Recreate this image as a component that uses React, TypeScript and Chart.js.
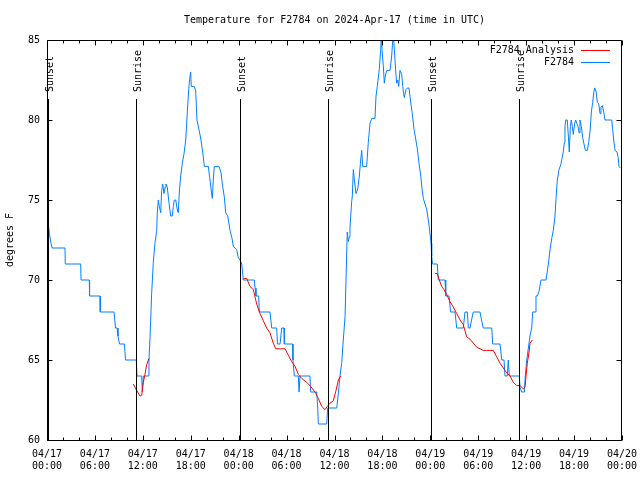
import React, { useEffect, useRef } from "react";
import { Chart, registerables } from "chart.js";

Chart.register(...registerables);

const titleText = "Temperature for F2784 on 2024-Apr-17 (time in UTC)";
const yAxisTitle = "degrees F";
const obsName = "F2784";
const anaName = "F2784 Analysis";

// x axis: hours since 04/17 00:00 UTC
const tickHours = [0, 6, 12, 18, 24, 30, 36, 42, 48, 54, 60, 66, 72];
const tickDates = ["04/17", "04/17", "04/17", "04/17", "04/18", "04/18", "04/18", "04/18", "04/19", "04/19", "04/19", "04/19", "04/20"];
const tickTimes = ["00:00", "06:00", "12:00", "18:00", "00:00", "06:00", "12:00", "18:00", "00:00", "06:00", "12:00", "18:00", "00:00"];
const yTicks = [60, 65, 70, 75, 80, 85];

const sunHours = [0.15, 11.18, 24.2, 35.22, 48.13, 59.14];
const sunLabels = ["Sunset", "Sunrise", "Sunset", "Sunrise", "Sunset", "Sunrise"];

// F2784 observations
const obsHours = [
  0.0, 0.13, 0.31, 0.5, 0.63, 2.25, 2.29, 4.22, 4.26, 5.3, 5.33, 6.64, 6.67, 8.39, 8.58, 8.77, 8.89, 9.08, 9.7, 9.83,
  11.18, 11.27, 11.86, 11.93, 12.02, 12.06, 12.68, 12.77, 12.9, 13.11, 13.31, 13.52, 13.74, 13.81, 13.94, 14.06, 14.24, 14.36, 14.49, 14.65,
  14.78, 14.9, 15.06, 15.28, 15.49, 15.69, 15.82, 15.94, 16.12, 16.28, 16.44, 16.57, 16.74, 16.94, 17.16, 17.37, 17.57, 17.74, 17.87, 17.99,
  18.07, 18.45, 18.62, 18.78, 19.03, 19.28, 19.57, 19.7, 20.2, 20.37, 20.54, 20.7, 20.82, 20.95, 21.54, 21.79, 21.95, 22.2, 22.38, 22.63,
  22.79, 22.92, 23.17, 23.33, 23.75, 23.95, 24.23, 24.38, 24.48, 24.58, 25.96, 26.05, 26.17, 26.51, 26.58, 27.92, 28.14, 28.76, 28.86, 29.18,
  29.39, 29.68, 29.72, 30.77, 30.8, 30.97, 31.47, 31.56, 31.64, 31.68, 32.93, 33.02, 33.77, 33.9, 33.97, 35.02, 35.15, 36.28, 36.48, 36.69,
  36.9, 37.1, 37.32, 37.44, 37.6, 37.73, 37.85, 37.94, 38.15, 38.23, 38.36, 38.48, 38.69, 38.91, 39.11, 39.28, 39.41, 39.53, 40.03, 40.23,
  40.45, 40.66, 41.07, 41.2, 41.36, 41.61, 41.79, 41.86, 41.95, 42.11, 42.24, 42.36, 42.54, 42.95, 43.16, 43.36, 43.49, 43.67, 43.79, 43.92,
  44.04, 44.2, 44.42, 44.54, 44.74, 44.95, 45.12, 45.33, 45.54, 45.74, 45.96, 46.17, 46.37, 46.58, 46.8, 46.96, 47.12, 47.55, 47.87, 48.09,
  48.17, 48.27, 48.87, 49.0, 49.84, 49.93, 50.34, 50.53, 51.09, 51.3, 52.13, 52.34, 52.63, 52.76, 52.97, 53.16, 53.38, 54.22, 54.41, 54.63,
  55.69, 55.81, 56.73, 56.94, 57.23, 57.35, 57.64, 57.76, 57.89, 59.14, 59.23, 59.44, 59.77, 59.89, 60.07, 60.48, 60.69, 60.82, 61.11, 61.23,
  61.4, 61.61, 61.86, 62.49, 62.78, 62.99, 63.2, 63.4, 63.61, 63.74, 63.9, 64.11, 64.33, 64.49, 64.65, 64.78, 64.86, 64.95, 65.15, 65.28,
  65.4, 65.53, 65.65, 65.78, 65.9, 66.08, 66.2, 66.33, 66.49, 66.62, 66.74, 66.91, 67.08, 67.24, 67.41, 67.66, 67.83, 68.0, 68.16, 68.33,
  68.46, 68.58, 68.75, 68.91, 69.09, 69.25, 69.37, 69.54, 69.71, 69.87, 70.71, 70.83, 70.96, 71.13, 71.38, 71.51, 71.63, 71.78,
];
const obsTemps = [
  74.0, 73.6, 72.9, 72.3, 72, 72, 71, 71, 70, 70, 69, 69, 68, 68, 67, 67, 66.5, 66, 66, 65,
  65, 64, 64, 63, 63, 64, 64, 65, 66.4, 69.2, 71.1, 72.3, 73.1, 74.2, 75, 74.6, 74.2, 75.6, 76, 75.4,
  75.8, 76, 75.8, 74.8, 74, 74, 74.6, 75, 75, 74.5, 74.2, 75.5, 76.5, 77.3, 77.9, 78.75, 80.5, 81.9, 82.6, 83,
  82.1, 82.1, 81.8, 80, 79.4, 78.75, 77.7, 77.1, 77.1, 76.4, 75.7, 75.1, 76.25, 77.1, 77.1, 76.7, 76, 75.2, 74.2, 74,
  73.5, 73.1, 72.6, 72.1, 71.9, 71.4, 71.2, 71, 70.5, 70, 70, 69.5, 69, 69, 68, 68, 67, 67, 66, 66,
  67, 67, 66, 66, 65, 64, 64, 63, 63, 64, 64, 63, 63, 62, 61, 61, 62, 62, 62.9, 64,
  64.8, 66.25, 67.7, 70, 73, 72.4, 72.7, 73.3, 74.9, 75.25, 76.9, 76.3, 75.4, 75.7, 76.5, 77.5, 78.1, 77.1, 77.1, 78.6,
  79.8, 80.1, 80.1, 81.5, 82.1, 83.2, 84.4, 85.5, 84.4, 83.4, 82.3, 82.75, 83.1, 83.1, 84, 85.5, 84.4, 83, 82.3, 82.5,
  82.1, 83.1, 82.85, 82.1, 81.4, 81.9, 82, 82, 81.1, 80.4, 79.4, 78.8, 78.2, 77.3, 76.5, 75.7, 75.1, 74.4, 73.3, 72.3,
  71.5, 71, 71, 70, 70, 69, 69, 68, 68, 67, 67, 68, 68, 67, 67, 67.5, 68, 68, 67.5, 67,
  67, 66, 66, 65, 65, 64, 64, 65, 64, 64, 63.3, 63, 63, 64, 65, 66.5, 67, 68, 68, 69,
  69, 69.3, 70, 70, 71, 71.9, 72.6, 73.1, 74, 75.1, 76.25, 76.9, 77.2, 77.6, 78, 78.6, 79.6, 80, 80, 79,
  78, 79.6, 80, 79.6, 79.1, 79.8, 80, 79.8, 79.6, 79.2, 80, 79.6, 78.9, 78.5, 78.1, 78.1, 78.6, 79.3, 80.5, 81.1,
  81.7, 82, 81.8, 81.1, 81, 80.4, 80.8, 80.9, 80.5, 80, 80, 79.4, 78.75, 78.1, 78, 77.7, 77.1, 77,
];

// F2784 Analysis (null = gap between runs)
const anaHours = [
  10.81, 11.23, 11.65, 11.86, 12.06, 12.27, 12.48, 12.68, 12.81,
  18.0,
  24.58, 25.01, 25.42, 25.83, 26.26, 26.67, 27.09, 27.51, 27.92, 28.34, 28.64, 29.18, 29.8, 30.22, 30.64, 31.06, 31.47, 31.89, 32.52, 32.93,
  33.56, 33.97, 34.4, 34.81, 35.1, 35.44, 35.85, 36.19, 36.48, 36.78,
  42.0,
  48.59, 48.87, 49.12, 49.42, 49.71, 50.05, 50.46, 50.88, 51.3, 51.72, 52.13, 52.55, 52.97, 53.38, 53.81, 54.22, 54.63, 55.06, 55.47, 55.89,
  56.31, 56.73, 57.14, 57.56, 57.98, 58.39, 58.82, 59.23, 59.64, 59.86, 59.98, 60.14, 60.36, 60.48, 60.77,
];
const anaTemps = [
  63.5, 63.1, 62.75, 62.8, 63.6, 64.1, 64.7, 65, 65.1,
  null,
  70.1, 70.1, 69.6, 69.4, 68.5, 67.9, 67.45, 67, 66.7, 66.05, 65.7, 65.7, 65.7, 65.3, 64.9, 64.6, 64.1, 63.85, 63.6, 63.4,
  63.0, 62.6, 62.1, 61.9, 62.1, 62.3, 62.45, 63.1, 63.75, 64,
  null,
  70.4, 70.4, 70, 69.6, 69.4, 69.1, 68.65, 68.3, 67.9, 67.5, 67.2, 66.45, 66.3, 66.05, 65.8, 65.7, 65.6, 65.6, 65.6, 65.6,
  65.2, 64.8, 64.5, 64.2, 64, 63.6, 63.4, 63.4, 63.2, 63.3, 64, 64.8, 65.5, 66.05, 66.25,
];

const OBS_COLOR = "#0080ff";
const ANA_COLOR = "#ff0000";
const FONT_FAMILY = '"DejaVu Sans Mono", monospace';
const FONT = '10px "DejaVu Sans Mono", monospace';

const decorPlugin = {
  id: "decor",
  afterDraw(chart: any) {
    const { ctx, chartArea: a, scales } = chart;
    const xs = scales.x;
    const ys = scales.y;
    const L = Math.round(a.left) + 0.5;
    const R = Math.round(a.right) - 0.5;
    const T = Math.round(a.top) + 0.5;
    const B = Math.round(a.bottom) + 0.5;
    ctx.save();
    ctx.strokeStyle = "#000";
    ctx.lineWidth = 1;
    // border
    ctx.beginPath();
    ctx.moveTo(L, T); ctx.lineTo(R, T); ctx.lineTo(R, B); ctx.lineTo(L, B); ctx.closePath();
    ctx.stroke();
    // x ticks (major every 6h, minor every 2h), inward on bottom and top
    ctx.beginPath();
    for (let h = 0; h <= 72; h += 2) {
      const px = Math.round(xs.getPixelForValue(h)) + 0.5;
      const len = h % 6 === 0 ? 5 : 3;
      ctx.moveTo(px, B); ctx.lineTo(px, B - len);
      ctx.moveTo(px, T); ctx.lineTo(px, T + len);
    }
    for (const v of yTicks) {
      const py = Math.round(ys.getPixelForValue(v)) + 0.5;
      ctx.moveTo(L, py); ctx.lineTo(L + 5, py);
      ctx.moveTo(R, py); ctx.lineTo(R - 5, py);
    }
    ctx.stroke();
    // sun lines
    ctx.font = FONT;
    ctx.fillStyle = "#000";
    sunHours.forEach((h, i) => {
      const px = Math.round(xs.getPixelForValue(h)) + 0.5;
      ctx.beginPath();
      ctx.moveTo(px, 99);
      ctx.lineTo(px, B);
      ctx.stroke();
      ctx.save();
      ctx.translate(px + 4.5, 92);
      ctx.rotate(-Math.PI / 2);
      ctx.textAlign = "left";
      ctx.textBaseline = "alphabetic";
      ctx.fillText(sunLabels[i], 0, 0);
      ctx.restore();
    });
    // title
    ctx.textAlign = "center";
    ctx.textBaseline = "middle";
    ctx.fillText(titleText, (a.left + a.right) / 2, 20);
    // y-axis title
    ctx.save();
    ctx.translate(10, (a.top + a.bottom) / 2);
    ctx.rotate(-Math.PI / 2);
    ctx.fillText(yAxisTitle, 0, 0);
    ctx.restore();
    // legend
    ctx.textAlign = "right";
    ctx.fillText(anaName, 574, 50);
    ctx.fillText(obsName, 574, 62);
    ctx.strokeStyle = ANA_COLOR;
    ctx.beginPath(); ctx.moveTo(581, 50.5); ctx.lineTo(610, 50.5); ctx.stroke();
    ctx.strokeStyle = OBS_COLOR;
    ctx.beginPath(); ctx.moveTo(581, 62.5); ctx.lineTo(610, 62.5); ctx.stroke();
    ctx.restore();
  },
};

export default function App() {
  const ref = useRef<HTMLCanvasElement | null>(null);
  useEffect(() => {
    if (!ref.current) return;
    const chart = new Chart(ref.current, {
      type: "line",
      data: {
        datasets: [
          {
            label: anaName,
            data: anaHours.map((h, i) => ({ x: h, y: anaTemps[i] })),
            borderColor: ANA_COLOR,
            borderWidth: 1,
            pointRadius: 0,
            tension: 0,
            spanGaps: false,
            fill: false,
          },
          {
            label: obsName,
            data: obsHours.map((h, i) => ({ x: h, y: obsTemps[i] })),
            borderColor: OBS_COLOR,
            borderWidth: 1,
            pointRadius: 0,
            tension: 0,
            fill: false,
          },
        ],
      },
      options: {
        animation: false,
        responsive: false,
        devicePixelRatio: 1,
        layout: { padding: { left: 0, top: 40, right: 18, bottom: 0 } },
        plugins: { legend: { display: false }, title: { display: false }, tooltip: { enabled: false } },
        scales: {
          x: {
            type: "linear",
            min: 0,
            max: 72,
            grid: { display: false, drawTicks: false },
            border: { display: false },
            afterBuildTicks: (s: any) => { s.ticks = tickHours.map((v) => ({ value: v })); },
            afterFit: (s: any) => { s.height = 40; s.paddingLeft = 0; s.paddingRight = 0; },
            ticks: {
              autoSkip: false,
              maxRotation: 0,
              padding: 8,
              color: "#000",
              font: { family: FONT_FAMILY, size: 10, lineHeight: "12px" },
              callback: (_v: any, i: number) => [tickDates[i], tickTimes[i]],
            },
          },
          y: {
            min: 60,
            max: 85,
            grid: { display: false, drawTicks: false },
            border: { display: false },
            afterBuildTicks: (s: any) => { s.ticks = yTicks.map((v) => ({ value: v })); },
            afterFit: (s: any) => { s.width = 47; s.paddingTop = 0; s.paddingBottom = 0; },
            ticks: {
              padding: 7,
              color: "#000",
              font: { family: FONT_FAMILY, size: 10 },
              callback: (v: any) => String(v),
            },
          },
        },
      },
      plugins: [decorPlugin],
    } as any);
    return () => chart.destroy();
  }, []);
  return (
    <div style={{ position: "absolute", left: 0, top: 0, width: 640, height: 480, background: "#fff" }}>
      <canvas ref={ref} width={640} height={480} style={{ width: 640, height: 480, display: "block" }} />
    </div>
  );
}
